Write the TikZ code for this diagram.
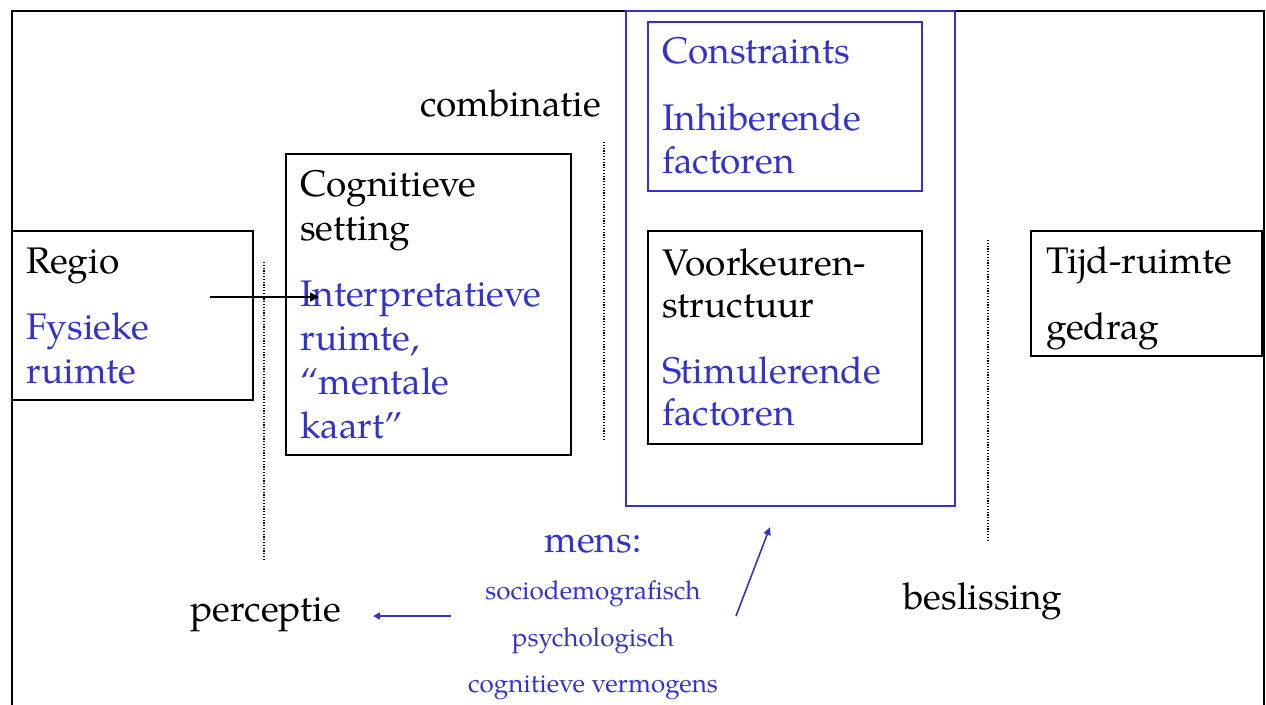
\documentclass[tikz,border=0pt]{standalone}
\usepackage{fontspec}
\setmainfont{TeX Gyre Pagella}
\usetikzlibrary{arrows.meta}
\definecolor{myblue}{RGB}{51,51,204}
\tikzset{
  bbox/.style={draw=myblue, line width=1.6pt, inner sep=0pt},
  kbox/.style={draw=black, line width=1.6pt, inner sep=0pt},
  big/.style={font=\fontsize{37}{44}\selectfont, inner sep=0pt, anchor=base west},
  bigb/.style={big, text=myblue},
  small/.style={font=\fontsize{26}{30}\selectfont, inner sep=0pt, anchor=base, text=myblue},
  sep/.style={line width=1.2pt, dash pattern=on 1.2pt off 1.6pt},
}
\begin{document}
\begin{tikzpicture}[x=1pt,y=-1pt]
\useasboundingbox (0,0) rectangle (1266,704);
% outer frame open at bottom
\coordinate (fbl) at (12,706);
\coordinate (ftl) at (12,11);
\coordinate (ftr) at (1264,11);
\coordinate (fbr) at (1264,706);
\draw[line width=2pt] (fbl) -- (ftl) -- (ftr) -- (fbr);
% boxes
\node[kbox, minimum width=241pt, minimum height=169pt] (regio) at (132.5,315.5) {};
\node[kbox, minimum width=285pt, minimum height=301pt] (cog) at (428.5,304.5) {};
\node[bbox, minimum width=329pt, minimum height=495pt] (outerb) at (790.5,258.5) {};
\node[bbox, minimum width=274pt, minimum height=169pt] (cons) at (785,106.5) {};
\node[kbox, minimum width=274pt, minimum height=213pt] (voor) at (785,337.5) {};
\node[kbox, minimum width=231pt, minimum height=125pt] (tijd) at (1146.5,293.5) {};
% dotted separators
\coordinate (d1a) at (264,262); \coordinate (d1b) at (264,561);
\coordinate (d2a) at (604,142); \coordinate (d2b) at (604,441);
\coordinate (d3a) at (988,240); \coordinate (d3b) at (988,541);
\draw[sep] (d1a) -- (d1b);
\draw[sep] (d2a) -- (d2b);
\draw[sep] (d3a) -- (d3b);
% texts
\node[big] (tcomb) at (420,116) {combinatie};
\node[big] (tregio) at (26,273) {Regio};
\node[bigb] (tfys) at (26,339) {Fysieke};
\node[bigb] (truim) at (26,383) {ruimte};
\node[big] (tcog) at (300,196) {Cognitieve};
\node[big] (tset) at (300,240) {setting};
\node[bigb] (tint) at (300,306) {Interpretatieve};
\node[bigb] (truim2) at (300,350) {ruimte,};
\node[bigb] (tment) at (300,394) {“mentale};
\node[bigb] (tkaart) at (300,438) {kaart”};
\node[bigb] (tcons) at (662,63) {Constraints};
\node[bigb] (tinh) at (662,130) {Inhiberende};
\node[bigb] (tfac1) at (662,173) {factoren};
\node[big] (tvoor) at (662,275) {Voorkeuren-};
\node[big] (tstruc) at (662,317) {structuur};
\node[bigb] (tstim) at (662,383) {Stimulerende};
\node[bigb] (tfac2) at (662,425) {factoren};
\node[big] (ttijd) at (1046,273) {Tijd-ruimte};
\node[big] (tged) at (1046,339) {gedrag};
\node[bigb, anchor=base] (tmens) at (593,552) {mens:};
\node[small] (tsoc) at (593,599) {sociodemografisch};
\node[small] (tpsy) at (593,646) {psychologisch};
\node[small] (tcogv) at (593,692) {cognitieve vermogens};
\node[big] (tperc) at (190,621) {perceptie};
\node[big] (tbes) at (903,609) {beslissing};
% arrows
\coordinate (a1s) at (210,297);
\coordinate (a1e) at (319,297);
\draw[line width=1.6pt, -{Triangle[length=9pt,width=9pt]}] (a1s) -- (a1e);
\coordinate (a2s) at (451,616);
\coordinate (a2e) at (373,616);
\draw[myblue, line width=1.6pt, -{Triangle[length=7pt,width=7pt]}] (a2s) -- (a2e);
\coordinate (a3s) at (736,616);
\coordinate (a3e) at (770,527);
\draw[myblue, line width=1.6pt, -{Triangle[length=8pt,width=7pt]}] (a3s) -- (a3e);
\end{tikzpicture}
\end{document}
